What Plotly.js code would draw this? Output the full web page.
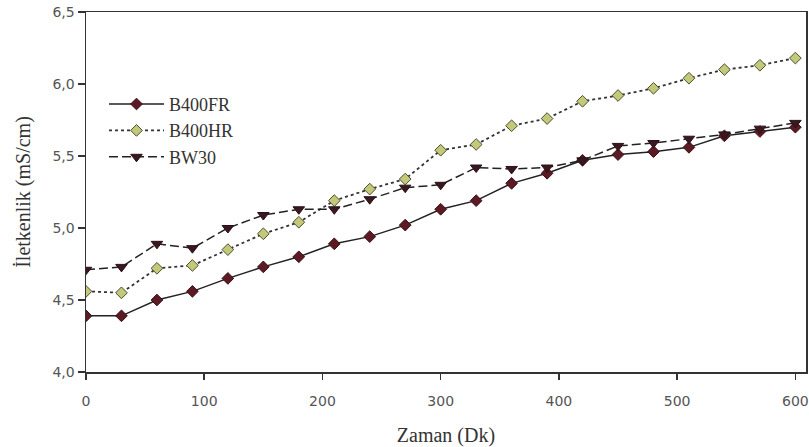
<!DOCTYPE html>
<html>
<head>
<meta charset="utf-8">
<script src="https://cdn.plot.ly/plotly-3.0.1.min.js"></script>
<style>html,body{margin:0;padding:0;background:#fff;}#chart{width:809px;height:447px;}</style>
</head>
<body>
<div id="chart"></div>
<script>
const time = [0,30,60,90,120,150,180,210,240,270,300,330,360,390,420,450,480,510,540,570,600];
const b400fr = [4.39,4.39,4.50,4.56,4.65,4.73,4.80,4.89,4.94,5.02,5.13,5.19,5.31,5.38,5.47,5.51,5.53,5.56,5.64,5.67,5.70];
const b400hr = [4.56,4.55,4.72,4.74,4.85,4.96,5.04,5.19,5.27,5.34,5.54,5.58,5.71,5.76,5.88,5.92,5.97,6.04,6.10,6.13,6.18];
const bw30 = [4.71,4.73,4.89,4.86,5.00,5.09,5.13,5.13,5.20,5.28,5.30,5.42,5.41,5.42,5.47,5.57,5.59,5.62,5.65,5.69,5.73];
const seriesNames = ['B400FR','B400HR','BW30'];
const xTicks = [0,100,200,300,400,500,600];
const yTicks = [4.0,4.5,5.0,5.5,6.0,6.5];

const traces = [
  {x: time, y: b400fr, name: seriesNames[0], type: 'scatter', mode: 'lines+markers',
   line: {color: '#222', width: 1.5, dash: 'solid'},
   marker: {symbol: 'diamond', size: 9, color: '#5c1a24', line: {color: '#3a1015', width: 1}}},
  {x: time, y: b400hr, name: seriesNames[1], type: 'scatter', mode: 'lines+markers',
   line: {color: '#333', width: 1.8, dash: 'dot'},
   marker: {symbol: 'diamond', size: 9, color: '#c3c97a', line: {color: '#4d4d2e', width: 1}}},
  {x: time, y: bw30, name: seriesNames[2], type: 'scatter', mode: 'lines+markers',
   line: {color: '#222', width: 1.5, dash: '9px,4px'},
   marker: {symbol: 'triangle-down', size: 10, color: '#3a1820', line: {color: '#2a1015', width: 1}}}
];

const serif = '"Liberation Serif", "Times New Roman", serif';
const sans = '"DejaVu Sans", sans-serif';
const layout = {
  width: 809, height: 447,
  margin: {l: 86, r: 3, t: 12, b: 75},
  paper_bgcolor: '#fff', plot_bgcolor: '#fff',
  separators: ',.',
  showlegend: true,
  legend: {x: 0.025, y: 0.795, xanchor: 'left', yanchor: 'top', bgcolor: 'rgba(0,0,0,0)',
           font: {family: serif, size: 18, color: '#333'}, itemwidth: 55, tracegroupgap: 0},
  xaxis: {range: [0, 609], tickvals: xTicks, ticktext: xTicks.map(String),
          showline: true, linecolor: '#333', linewidth: 1.5, mirror: true,
          ticks: 'outside', ticklen: 6, tickcolor: '#333', tickwidth: 1.5,
          ticklabelstandoff: 10,
          showgrid: false, zeroline: false,
          tickfont: {family: sans, size: 14, color: '#555'},
          title: {text: 'Zaman (Dk)', font: {family: serif, size: 20, color: '#333'}, standoff: 20}},
  yaxis: {range: [4, 6.5], tickvals: yTicks, tickformat: '.1f',
          showline: true, linecolor: '#333', linewidth: 1.5, mirror: true,
          ticks: 'outside', ticklen: 7, tickcolor: '#333', tickwidth: 1.5,
          showgrid: false, zeroline: false,
          tickfont: {family: sans, size: 14, color: '#555'},
          title: {text: 'İletkenlik (mS/cm)', font: {family: serif, size: 20, color: '#333'}, standoff: 16}}
};

Plotly.newPlot('chart', traces, layout, {staticPlot: true, displayModeBar: false});
</script>
</body>
</html>
